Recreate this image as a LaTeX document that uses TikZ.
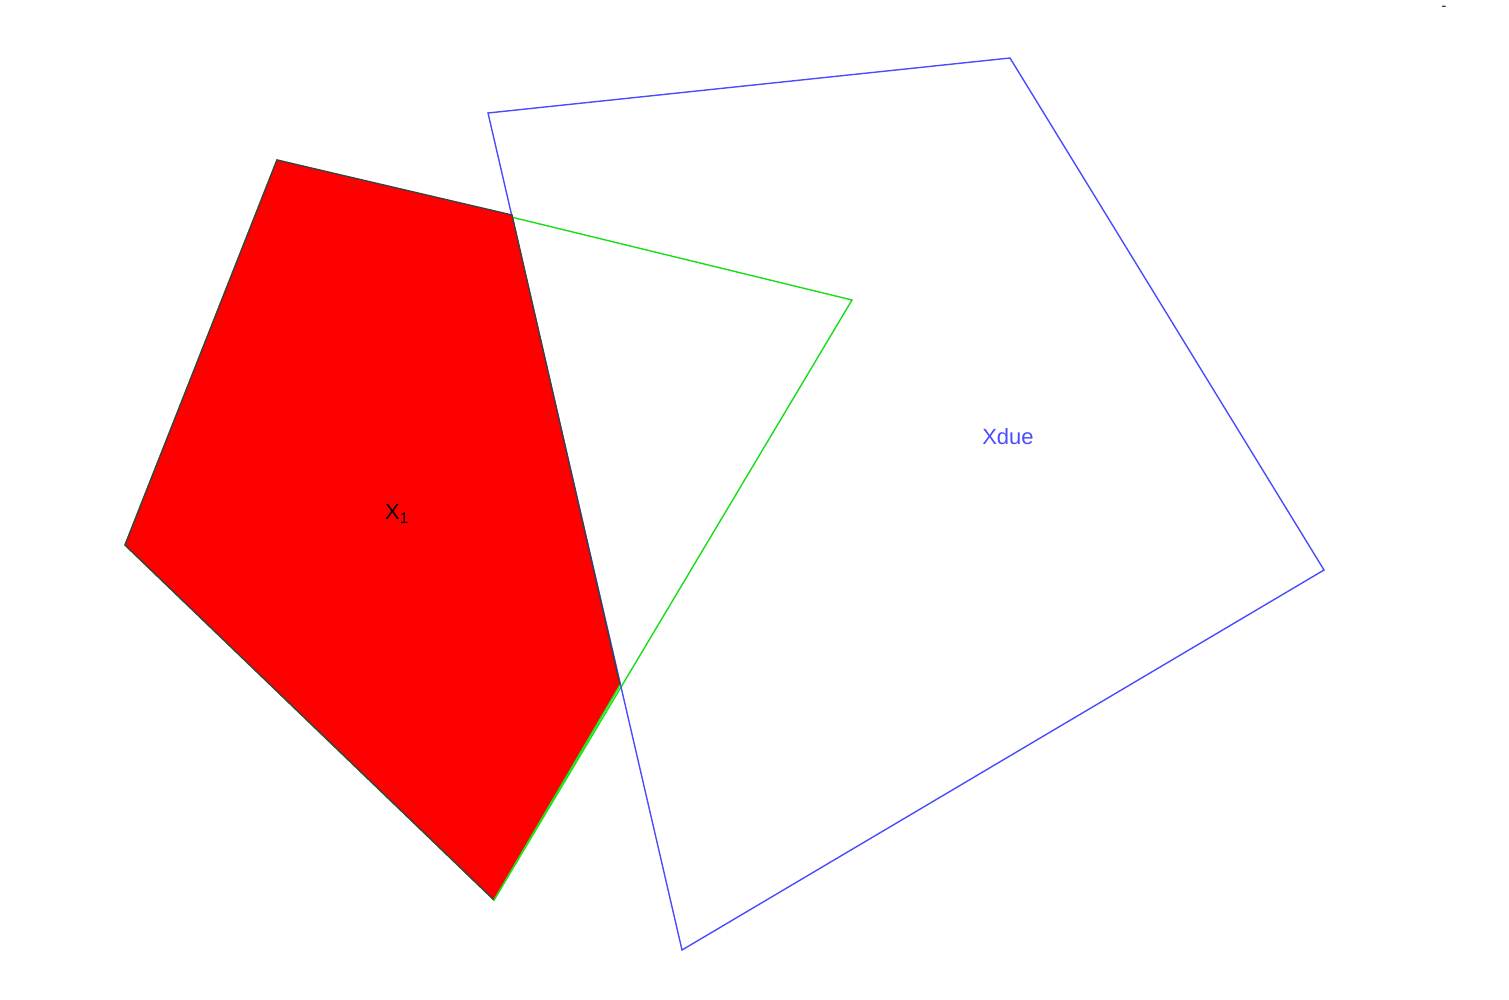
\documentclass[tikz,border=0pt]{standalone}
\usepackage{fontspec}
\setmainfont{Liberation Sans}
\begin{document}
\begin{tikzpicture}[x=1pt,y=-1pt,
  edge/.style={line width=1.4pt},
  lbl/.style={inner sep=0pt,font=\fontsize{22}{26}\selectfont}]
\useasboundingbox (0,0) rectangle (1509,1000);
% green quadrilateral
\coordinate (g1) at (277,160);
\coordinate (g2) at (852,300);
\coordinate (g3) at (494,900);
\coordinate (g4) at (125,545);
% red pentagon corners
\coordinate (r2) at (512,215);
\coordinate (r3) at (620,685);
% blue quadrilateral
\coordinate (b1) at (488,113);
\coordinate (b2) at (1010,58);
\coordinate (b3) at (1324,570);
\coordinate (b4) at (682,950);
\draw[edge, green!85!black!90] (g1) -- (g2) -- (g3) -- (g4) -- cycle;
\draw[edge, blue!70] (b1) -- (b2) -- (b3) -- (b4) -- cycle;
\fill[red] (g1) -- (r2) -- (r3) -- (g3) -- (g4) -- cycle;
\draw[edge, black!75] (r3) -- (r2) -- (g1) -- (g4) -- (g3);
\draw[edge, green!90!black!90] (r3) -- (g3);
\node[lbl, text=black] (x1) at (397,514) {X\textsubscript{1}};
\node[lbl, text=blue!70] (xdue) at (1008,437) {Xdue};
\node[inner sep=0pt, font=\fontsize{14}{16}\selectfont, text height=4pt, text depth=0pt, anchor=base] (dash) at (1444,11) {-};
\end{tikzpicture}
\end{document}
